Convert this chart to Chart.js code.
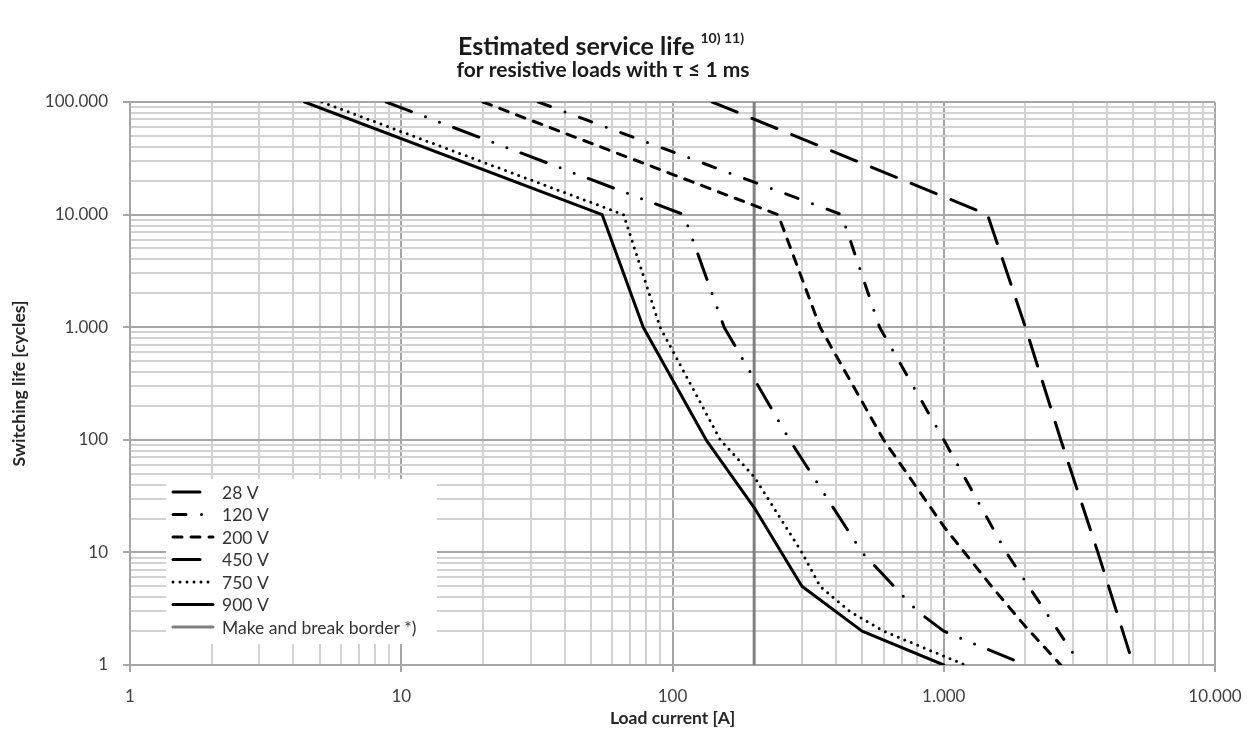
<!DOCTYPE html>
<html>
<head>
<meta charset="utf-8">
<script src="https://cdn.jsdelivr.net/npm/chart.js@4/dist/chart.umd.min.js"></script>
<style>
  html, body { margin: 0; padding: 0; background: #fff; }
</style>
</head>
<body>
<canvas id="chart" width="1248" height="732"></canvas>
<script>
// load current [A] vs. switching life [cycles]
const current_28v = [140, 1450, 2000, 2700, 3700, 5000];
const life_28v = [100000, 10000, 1000, 100, 10, 1];

const current_120v = [32, 420, 580, 1000, 1700, 3200];
const life_120v = [100000, 10000, 1000, 100, 10, 1];

const current_200v = [20, 245, 350, 600, 1000, 1500, 2000, 2700];
const life_200v = [100000, 10000, 1000, 100, 17, 5, 2.2, 1];

const current_450v = [8.8, 110, 155, 270, 500, 800, 1000, 2000];
const life_450v = [100000, 10000, 1000, 100, 10, 3, 2, 1];

const current_750v = [5.1, 66, 90, 150, 200, 300, 350, 450, 600, 1200];
const life_750v = [100000, 10000, 1000, 100, 47, 10, 5, 3, 2, 1];

const current_900v = [4.4, 55, 78, 133, 200, 300, 500, 1000];
const life_900v = [100000, 10000, 1000, 100, 25, 5, 2, 1];

// make and break border *)
const border_current = [200, 200];
const border_life = [1, 100000];

const series_labels = ["28 V", "120 V", "200 V", "450 V", "750 V", "900 V", "Make and break border *)"];

const font_family = "Lato, 'Open Sans', sans-serif";

const zip = (xs, ys) => xs.map((x, i) => ({ x: x, y: ys[i] }));

// 1,2,...,9 for every decade between min and max
const log_ticks = (min, max) => {
    const ticks = [];
    for (let e = Math.log10(min); e < Math.log10(max); e++) {
        for (let k = 1; k < 10; k++) {
            ticks.push({ value: k * Math.pow(10, e) });
        }
    }
    ticks.push({ value: max });
    return ticks;
};

const is_decade = (v) => Math.abs(Math.log10(v) - Math.round(Math.log10(v))) < 1e-9;

// german thousands separator: 100.000
const fmt = (v) => String(Math.round(v)).replace(/\B(?=(\d{3})+(?!\d))/g, ".");

const grid_opts = {
    color: (ctx) => (ctx.tick && is_decade(ctx.tick.value) ? "#a6a6a6" : "#d2d2d2"),
    lineWidth: 2,
    tickLength: 7,
    tickColor: (ctx) => (ctx.tick && is_decade(ctx.tick.value) ? "#a6a6a6" : "rgba(0,0,0,0)"),
};

const line = (label, data, dash, color = "#000") => ({
    label: label,
    data: data,
    borderColor: color,
    borderWidth: 3,
    borderDash: dash,
    borderCapStyle: "round",
    borderJoinStyle: "round",
    pointRadius: 0,
    tension: 0,
    fill: false,
});

// title with superscript footnotes + legend box inside the plot
const decorations = {
    id: "decorations",
    afterDraw(chart) {
        const ctx = chart.ctx;
        ctx.save();
        ctx.fillStyle = "#1a1a1a";
        ctx.textBaseline = "alphabetic";

        const main = "Estimated service life";
        const sup = "10) 11)";
        ctx.font = "bold 25px " + font_family;
        const w1 = ctx.measureText(main).width;
        ctx.font = "bold 14px " + font_family;
        const w2 = ctx.measureText(sup).width;
        const x0 = 601 - (w1 + 6 + w2) / 2;
        ctx.textAlign = "left";
        ctx.font = "bold 25px " + font_family;
        ctx.fillText(main, x0, 55);
        ctx.font = "bold 14px " + font_family;
        ctx.fillText(sup, x0 + w1 + 6, 43);

        ctx.textAlign = "center";
        ctx.font = "bold 21px " + font_family;
        ctx.fillText("for resistive loads with \u03c4 \u2264 1 ms", 603, 77);

        // legend
        ctx.fillStyle = "#fff";
        ctx.fillRect(166, 479, 271, 165);
        chart.data.datasets.forEach((ds, i) => {
            const y = 492 + i * 22.5;
            ctx.beginPath();
            ctx.strokeStyle = ds.borderColor;
            ctx.lineWidth = 3;
            ctx.lineCap = "round";
            ctx.setLineDash(ds.borderDash || []);
            ctx.moveTo(173, y);
            ctx.lineTo(213, y);
            ctx.stroke();
            ctx.setLineDash([]);
            ctx.fillStyle = "#333";
            ctx.font = "17.5px " + font_family;
            ctx.textAlign = "left";
            ctx.textBaseline = "middle";
            ctx.fillText(ds.label, 222, y + 1);
        });
        ctx.restore();
    },
};

const canvas = document.getElementById("chart");
const chart = new Chart(canvas.getContext("2d"), {
    type: "line",
    data: {
        datasets: [
            line(series_labels[0], zip(current_28v, life_28v), [27, 16]),
            line(series_labels[1], zip(current_120v, life_120v), [13, 15.5, 0, 15.5]),
            line(series_labels[2], zip(current_200v, life_200v), [9, 9]),
            line(series_labels[3], zip(current_450v, life_450v), [27, 15, 0, 15, 0, 15]),
            line(series_labels[4], zip(current_750v, life_750v), [0, 7]),
            line(series_labels[5], zip(current_900v, life_900v), []),
            line(series_labels[6], zip(border_current, border_life), [], "#7f7f7f"),
        ],
    },
    options: {
        responsive: false,
        animation: false,
        layout: { padding: { left: 0, right: 33, top: 102, bottom: 0 } },
        plugins: {
            legend: { display: false },
            title: { display: false },
            tooltip: { enabled: false },
        },
        scales: {
            x: {
                type: "logarithmic",
                min: 1,
                max: 10000,
                afterBuildTicks: (scale) => {
                    scale.ticks = log_ticks(1, 10000);
                },
                afterFit: (scale) => {
                    scale.height = 67;
                    // the end labels may overhang the plot, like in the original
                    scale.paddingLeft = 0;
                    scale.paddingRight = 0;
                },
                ticks: {
                    autoSkip: false,
                    maxRotation: 0,
                    padding: 14,
                    color: "#404040",
                    font: { size: 17, family: font_family },
                    callback: (v) => (is_decade(v) ? fmt(v) : ""),
                },
                grid: grid_opts,
                border: { color: "#a6a6a6", width: 2 },
                title: {
                    display: true,
                    text: "Load current [A]",
                    color: "#262626",
                    font: { size: 17.5, weight: "bold", family: font_family },
                    padding: { top: 0, bottom: 3 },
                },
            },
            y: {
                type: "logarithmic",
                min: 1,
                max: 100000,
                afterBuildTicks: (scale) => {
                    scale.ticks = log_ticks(1, 100000);
                },
                afterFit: (scale) => {
                    scale.width = 130;
                },
                ticks: {
                    autoSkip: false,
                    padding: 15,
                    color: "#404040",
                    font: { size: 17, family: font_family },
                    callback: (v) => (is_decade(v) ? fmt(v) : ""),
                },
                grid: grid_opts,
                border: { color: "#a6a6a6", width: 2 },
                title: {
                    display: true,
                    text: "Switching life [cycles]",
                    color: "#262626",
                    font: { size: 17.5, weight: "bold", family: font_family },
                    padding: { top: 9, bottom: 0 },
                },
            },
        },
    },
    plugins: [decorations],
});
</script>
</body>
</html>
